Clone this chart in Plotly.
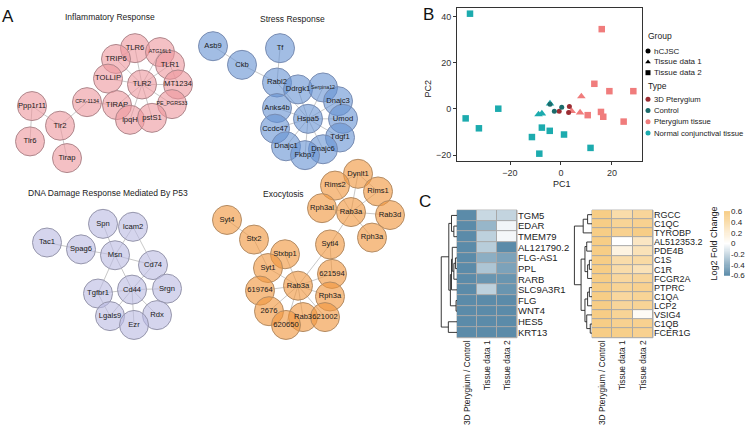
import plotly.graph_objects as go

W, H = 750, 432
FONT = "Liberation Sans, Arial, sans-serif"

# ---------------- Panel A: network data (layout coordinates) ----------------
infl_nodes = ["TLR6", "ATG16L1", "TRIP6", "TLR1", "TOLLIP", "TLR2", "MT1234", "CFX-1134",
              "TIRAP", "PE_PGRS33", "lpqH", "pstS1", "Ppp1r11", "Tlr2", "Tlr6", "Tirap"]
infl_x = [135, 160, 116, 170, 108, 142, 178, 87, 117, 172, 130, 152, 32, 60, 30, 67]
infl_y = [45, 49, 56, 62, 76, 82, 82, 100, 103, 102, 118, 116, 104, 124, 140, 157]
infl_edges = [("TLR2", n) for n in ["TLR6", "ATG16L1", "TRIP6", "TLR1", "TOLLIP", "MT1234",
                                     "TIRAP", "PE_PGRS33", "lpqH", "pstS1"]] + \
             [("CFX-1134", "TIRAP"), ("CFX-1134", "Tlr2"), ("Ppp1r11", "Tlr2"),
              ("Tlr2", "Tirap"), ("Ppp1r11", "Tlr6"), ("TLR6", "TRIP6"), ("TLR1", "MT1234")]

stress_nodes = ["Asb9", "Tf", "Ckb", "Rabl2", "Ddrgk1", "Serpina12", "Dnajc3", "Anks4b", "Hspa5",
                "Umod", "Ccdc47", "Tdgf1", "Dnajc1", "Dnajc6", "Fkbp7"]
stress_x = [213, 280, 242, 277, 298, 323, 338, 277, 308, 343, 275, 340, 286, 323, 305]
stress_y = [43, 45, 62, 80, 87, 85, 99, 106, 117, 117, 127, 136, 145, 148, 154]
stress_edges = [("Asb9", "Ckb"), ("Ckb", "Rabl2"), ("Tf", "Rabl2")] + \
               [("Hspa5", n) for n in ["Rabl2", "Ddrgk1", "Serpina12", "Dnajc3", "Anks4b", "Umod",
                                        "Ccdc47", "Tdgf1", "Dnajc1", "Dnajc6", "Fkbp7"]]

dna_nodes = ["Spn", "Icam2", "Tac1", "Spag6", "Msn", "Cd74", "Tgfbr1", "Cd44", "Srgn", "Lgals9", "Rdx", "Ezr"]
dna_x = [103, 133, 47, 81, 115, 153, 98, 132, 167, 110, 157, 134]
dna_y = [224, 227, 243, 250, 256, 266, 295, 291, 290, 318, 317, 327]
dna_edges = [("Tac1", "Spag6"), ("Spag6", "Msn"), ("Spn", "Msn"), ("Icam2", "Msn"), ("Msn", "Cd74"),
             ("Msn", "Cd44"), ("Msn", "Tgfbr1"), ("Cd44", "Srgn"), ("Cd44", "Rdx"), ("Cd44", "Ezr"),
             ("Cd44", "Lgals9"), ("Cd44", "Tgfbr1"), ("Cd74", "Cd44"), ("Icam2", "Cd74"), ("Tgfbr1", "Lgals9")]

exo_nodes = ["Dynlt1", "Rims2", "Rims1", "Rph3al", "Rab3a", "Rab3d", "Rph3a", "Sytl4", "Syt4", "Stx2",
             "Stxbp1", "Syt1", "619764", "Rab3a#2", "621594", "Rph3a#2", "2676", "Rab3", "621002", "620650"]
exo_x = [358, 335, 378, 322, 351, 390, 372, 330, 227, 254, 285, 268, 260, 298, 332, 330, 269, 303, 325, 286]
exo_y = [173, 185, 191, 208, 212, 215, 238, 245, 220, 240, 255, 269, 292, 287, 275, 298, 313, 319, 319, 327]
exo_edges = [("Rab3a", n) for n in ["Dynlt1", "Rims2", "Rims1", "Rph3al", "Rab3d", "Rph3a", "Sytl4"]] + \
            [("Rab3a#2", n) for n in ["Stxbp1", "Syt1", "619764", "621594", "Rph3a#2", "2676", "Rab3",
                                       "621002", "620650"]] + \
            [("Syt4", "Stx2"), ("Stx2", "Syt1"), ("Sytl4", "621594"), ("Sytl4", "Rab3a#2"),
             ("Rims2", "Dynlt1"), ("Rims1", "Dynlt1")]

net_titles = ["Inflammatory Response", "Stress Response", "DNA Damage Response Mediated By P53", "Exocytosis"]
net_title_x = [110, 292, 108, 283]
net_title_y = [13, 15, 193, 194]
small_labels = {"ATG16L1", "CFX-1134", "PE_PGRS33", "Serpina12"}

# ---------------- Panel B: PCA data ----------------
pc1 = [-35.7, -37.4, -32.2, -24.6, -11.4, -7.5, -8.5, -4.4, 1.2, 11.6,
       -8.8, -7.5, -4.3,
       -4.3, -2.6, 0.3,
       -0.7, 3.3, 3.0,
       4.2, 8.0, 7.5,
       16.0, 13.1, 19.0, 28.4, 10.5, 15.7, 16.6, 24.6]
pc2 = [41.3, -4.1, -8.4, 0.1, -12.2, -8.1, -19.4, -9.5, -11.1, -16.9,
       -2.4, -2.0, 2.3,
       2.0, -1.0, 0.7,
       -1.0, 1.1, -1.6,
       -1.0, 5.4, -1.6,
       34.6, 10.9, 7.7, 7.7, -2.7, -1.3, -3.4, -5.5]
pca_group = ["Tissue data 2"] * 10 + ["Tissue data 1"] * 3 + ["hCJSC"] * 6 + \
            ["Tissue data 1"] * 3 + ["Tissue data 2"] * 8
pca_type = ["Normal conjunctival tissue"] * 13 + ["Control"] * 3 + ["3D Pterygium"] * 3 + \
           ["Pterygium tissue"] * 11
group_levels = ["hCJSC", "Tissue data 1", "Tissue data 2"]
type_levels = ["3D Pterygium", "Control", "Pterygium tissue", "Normal conjunctival tissue"]
pc1_ticks = [-20, 0, 20]
pc2_ticks = [-20, 0, 20, 40]

# ---------------- Panel C: heatmap data ----------------
down_genes = ["TGM5", "EDAR", "TMEM79", "AL121790.2", "FLG-AS1", "PPL", "RARB", "SLC9A3R1",
              "FLG", "WNT4", "HES5", "KRT13"]
down_3d = [-0.6] * 12
down_t1 = [-0.2, -0.38, -0.24, -0.26, -0.42, -0.3, -0.55, -0.24, -0.6, -0.6, -0.6, -0.6]
down_t2 = [-0.22, -0.05, -0.04, -0.6, -0.48, -0.48, -0.55, -0.55, -0.6, -0.6, -0.6, -0.6]
down_merges = [(4, 5, 0.1), (12, 6, 0.2), (3, 13, 0.3), (14, 7, 0.35), (8, 9, 0.06),
               (15, 16, 0.42), (1, 2, 0.2), (0, 18, 0.35), (19, 17, 0.52), (10, 11, 0.55), (20, 21, 1.0)]

up_genes = ["RGCC", "C1QC", "TYROBP", "AL512353.2", "PDE4B", "C1S", "C1R", "FCGR2A", "PTPRC",
            "C1QA", "LCP2", "VSIG4", "C1QB", "FCER1G"]
up_3d = [0.6] * 14
up_t1 = [0.42, 0.52, 0.55, 0.0, 0.15, 0.42, 0.42, 0.48, 0.52, 0.48, 0.5, 0.52, 0.55, 0.58]
up_t2 = [0.5, 0.55, 0.6, 0.3, 0.35, 0.45, 0.35, 0.5, 0.55, 0.52, 0.52, 0.05, 0.55, 0.55]
up_merges = [(0, 1, 0.25), (14, 2, 0.5), (3, 4, 0.3), (5, 6, 0.15), (17, 7, 0.25), (16, 18, 0.4),
             (8, 9, 0.15), (20, 10, 0.25), (12, 13, 0.1), (11, 22, 0.3), (21, 23, 0.4),
             (19, 24, 0.62), (15, 25, 1.0)]
heat_cols = ["3D Pterygium / Control", "Tissue data 1", "Tissue data 2"]
cbar_ticks = [-0.6, -0.4, -0.2, 0, 0.2, 0.4, 0.6]
cbar_min, cbar_max = -0.6, 0.6

# ---------------- figure ----------------
fig = go.Figure()


def fx(px):
    return px / W


def fy(py):
    return 1 - py / H


def add_network(nodes, xs, ys, edges, fill, border):
    pos = {n: (x, y) for n, x, y in zip(nodes, xs, ys)}
    ex, ey = [], []
    for a, b in edges:
        ex += [pos[a][0], pos[b][0], None]
        ey += [pos[a][1], pos[b][1], None]
    fig.add_trace(go.Scatter(x=ex, y=ey, mode="lines", line=dict(color="#C8C8C8", width=1),
                             xaxis="x", yaxis="y", hoverinfo="skip", showlegend=False))
    labels = [n.split("#")[0] for n in nodes]
    sizes = [5.3 if l in small_labels else 7.6 for l in labels]
    fig.add_trace(go.Scatter(x=xs, y=ys, mode="markers+text", text=labels, textposition="middle center",
                             textfont=dict(size=sizes, color="#1a1a1a", family=FONT),
                             marker=dict(size=29, color=fill, line=dict(color=border, width=1)),
                             xaxis="x", yaxis="y", hoverinfo="text", showlegend=False, cliponaxis=False))


add_network(infl_nodes, infl_x, infl_y, infl_edges, "rgba(236,150,156,0.6)", "rgb(175,135,140)")
add_network(stress_nodes, stress_x, stress_y, stress_edges, "rgba(100,145,210,0.6)", "rgb(120,140,178)")
add_network(dna_nodes, dna_x, dna_y, dna_edges, "rgba(185,185,225,0.6)", "rgb(150,150,172)")
add_network(exo_nodes, exo_x, exo_y, exo_edges, "rgba(240,150,62,0.62)", "rgb(180,140,100)")

# ---- PCA ----
type_colors = {"3D Pterygium": "#9B2D33", "Control": "#1B6B6B",
               "Pterygium tissue": "#F07C7C", "Normal conjunctival tissue": "#1CABAE"}
group_symbols = {"hCJSC": "circle", "Tissue data 1": "triangle-up", "Tissue data 2": "square"}
group_sizes = {"hCJSC": 5, "Tissue data 1": 7.5, "Tissue data 2": 6.5}
for g in ["Tissue data 2", "Tissue data 1", "hCJSC"]:
    for t in type_levels:
        idx = [i for i in range(len(pc1)) if pca_group[i] == g and pca_type[i] == t]
        if not idx:
            continue
        fig.add_trace(go.Scatter(x=[pc1[i] for i in idx], y=[pc2[i] for i in idx], mode="markers",
                                 marker=dict(symbol=group_symbols[g], size=group_sizes[g],
                                             color=type_colors[t], line=dict(width=0)),
                                 xaxis="x2", yaxis="y2", showlegend=False, name=t + " / " + g))

# legend glyphs (drawn in the pixel overlay)
leg_sym_x = 648
leg_group_y = [48, 59, 70]
leg_type_y = [97, 108.5, 120, 131.5]
fig.add_trace(go.Scatter(x=[leg_sym_x] * 3, y=leg_group_y, mode="markers",
                         marker=dict(symbol=[group_symbols[g] for g in group_levels], size=5, color="black"),
                         xaxis="x", yaxis="y", showlegend=False, hoverinfo="skip"))
fig.add_trace(go.Scatter(x=[leg_sym_x] * 4, y=leg_type_y, mode="markers",
                         marker=dict(symbol="circle", size=5, color=[type_colors[t] for t in type_levels]),
                         xaxis="x", yaxis="y", showlegend=False, hoverinfo="skip"))

# ---- heatmaps ----
cscale = [[0, "#5B8BA9"], [0.5, "#FFFFFF"], [1, "#F7CD86"]]
fig.add_trace(go.Heatmap(z=[list(r) for r in zip(down_3d, down_t1, down_t2)], x=[0, 1, 2],
                         y=list(range(len(down_genes))), zmin=cbar_min, zmax=cbar_max, colorscale=cscale,
                         xgap=1, ygap=1, showscale=False, xaxis="x3", yaxis="y3"))
fig.add_trace(go.Heatmap(z=[list(r) for r in zip(up_3d, up_t1, up_t2)], x=[0, 1, 2],
                         y=list(range(len(up_genes))), zmin=cbar_min, zmax=cbar_max, colorscale=cscale,
                         xgap=1, ygap=1, showscale=False, xaxis="x4", yaxis="y4"))

# colour key drawn as its own small heatmap strip on a value axis
n_steps = 60
key_vals = [cbar_min + (cbar_max - cbar_min) * i / n_steps for i in range(n_steps + 1)]
fig.add_trace(go.Heatmap(z=[[v] for v in key_vals], x=[0], y=key_vals, zmin=cbar_min, zmax=cbar_max,
                         colorscale=cscale, showscale=False, xaxis="x7", yaxis="y7", hoverinfo="skip"))


def dendro(n, merges):
    pos = {i: (0.0, float(i)) for i in range(n)}
    xs, ys = [], []
    k = n
    for a, b, h in merges:
        ha, ya = pos[a]
        hb, yb = pos[b]
        xs += [ha, h, h, hb, None]
        ys += [ya, ya, yb, yb, None]
        pos[k] = (h, (ya + yb) / 2)
        k += 1
    return xs, ys


dx, dy = dendro(len(down_genes), down_merges)
fig.add_trace(go.Scatter(x=dx, y=dy, mode="lines", line=dict(color="#222", width=0.9),
                         xaxis="x5", yaxis="y5", showlegend=False, hoverinfo="skip"))
ux, uy = dendro(len(up_genes), up_merges)
fig.add_trace(go.Scatter(x=ux, y=uy, mode="lines", line=dict(color="#222", width=0.9),
                         xaxis="x6", yaxis="y6", showlegend=False, hoverinfo="skip"))

# ---------------- layout ----------------
hm_y = [fy(340), fy(210)]
hidden = dict(visible=False, showgrid=False, zeroline=False, fixedrange=True)
tickfont = dict(size=9, color="#333", family=FONT)
collab_font = dict(size=8.4, color="#222", family=FONT)
half = (cbar_max - cbar_min) / n_steps / 2
layout = dict(
    width=W, height=H, margin=dict(l=0, r=0, t=0, b=0),
    paper_bgcolor="white", plot_bgcolor="rgba(0,0,0,0)",
    font=dict(family=FONT, color="#222"),
    showlegend=False,
    xaxis=dict(hidden, domain=[0, 1], range=[0, W]),
    yaxis=dict(hidden, domain=[0, 1], range=[H, 0]),
    xaxis2=dict(domain=[fx(457), fx(642)], range=[-40.8, 31.8], anchor="y2", tickvals=pc1_ticks,
                ticks="outside", ticklen=3, tickcolor="#333", tickfont=tickfont, showgrid=False,
                zeroline=False, showline=True, mirror=True, linecolor="#333", linewidth=1),
    yaxis2=dict(domain=[fy(160), fy(4)], range=[-22.6, 43.8], anchor="x2", tickvals=pc2_ticks,
                ticks="outside", ticklen=3, tickcolor="#333", tickfont=tickfont, showgrid=False,
                zeroline=False, showline=True, mirror=True, linecolor="#333", linewidth=1),
    xaxis3=dict(domain=[fx(457), fx(517)], range=[-0.5, 2.5], anchor="y3", tickvals=[0, 1, 2],
                ticktext=heat_cols, tickangle=-90, ticks="", showgrid=False, zeroline=False,
                tickfont=collab_font),
    yaxis3=dict(domain=hm_y, range=[len(down_genes) - 0.5, -0.5], anchor="x3", side="right",
                tickvals=list(range(len(down_genes))), ticktext=down_genes, ticks="", showgrid=False,
                zeroline=False, tickfont=dict(size=9.5, color="#222", family=FONT)),
    xaxis4=dict(domain=[fx(592), fx(653)], range=[-0.5, 2.5], anchor="y4", tickvals=[0, 1, 2],
                ticktext=heat_cols, tickangle=-90, ticks="", showgrid=False, zeroline=False,
                tickfont=collab_font),
    yaxis4=dict(domain=hm_y, range=[len(up_genes) - 0.5, -0.5], anchor="x4", side="right",
                tickvals=list(range(len(up_genes))), ticktext=up_genes, ticks="", showgrid=False,
                zeroline=False, tickfont=dict(size=9, color="#222", family=FONT)),
    xaxis5=dict(hidden, domain=[fx(440), fx(457)], range=[1.08, 0], anchor="y5"),
    yaxis5=dict(hidden, domain=hm_y, range=[len(down_genes) - 0.5, -0.5], anchor="x5"),
    xaxis6=dict(hidden, domain=[fx(573), fx(592)], range=[1.08, 0], anchor="y6"),
    yaxis6=dict(hidden, domain=hm_y, range=[len(up_genes) - 0.5, -0.5], anchor="x6"),
    xaxis7=dict(hidden, domain=[fx(724), fx(730)], range=[-0.5, 0.5], anchor="y7"),
    yaxis7=dict(domain=[fy(277), fy(211)], range=[cbar_min - half, cbar_max + half], anchor="x7",
                side="right", tickvals=cbar_ticks, ticktext=["%g" % v for v in cbar_ticks], ticks="",
                showgrid=False, zeroline=False, showline=False, fixedrange=True,
                tickfont=dict(size=8, color="#222", family=FONT)),
)
fig.update_layout(**layout)

shapes = []
for ax in ["3", "4"]:
    shapes.append(dict(type="rect", xref="x%s domain" % ax, yref="y%s domain" % ax, x0=0, x1=1, y0=0, y1=1,
                       fillcolor="#A8A8A8", line=dict(color="#A8A8A8", width=1), layer="below"))
fig.update_layout(shapes=shapes)

ann = []


def txt(x, y, s, size, xanchor="center", angle=0, color="#222"):
    ann.append(dict(x=x, y=y, xref="x", yref="y", text=s, showarrow=False, xanchor=xanchor,
                    yanchor="middle", textangle=angle, font=dict(size=size, color=color, family=FONT)))


for t, x, y in zip(net_titles, net_title_x, net_title_y):
    txt(x, y, t, 8.5)
txt(8, 13, "A", 17, color="#111")
txt(428, 11, "B", 17, color="#111")
txt(425, 201, "C", 17, color="#111")
txt(562, 183, "PC1", 9)
txt(428, 86, "PC2", 9, angle=-90)
txt(646, 33, "Group", 8.5, xanchor="left")
for g, y in zip(group_levels, leg_group_y):
    txt(652, y, g, 8, xanchor="left")
txt(646, 84, "Type", 8.5, xanchor="left")
for t, y in zip(type_levels, leg_type_y):
    txt(652, y, t, 7.7, xanchor="left")
txt(714, 244, "Log2 Fold Change", 9, angle=-90)
fig.update_layout(annotations=ann)

fig.write_html("out.html", config={"displayModeBar": False},
               post_script="document.body.style.margin='0';document.body.style.overflow='hidden';")
